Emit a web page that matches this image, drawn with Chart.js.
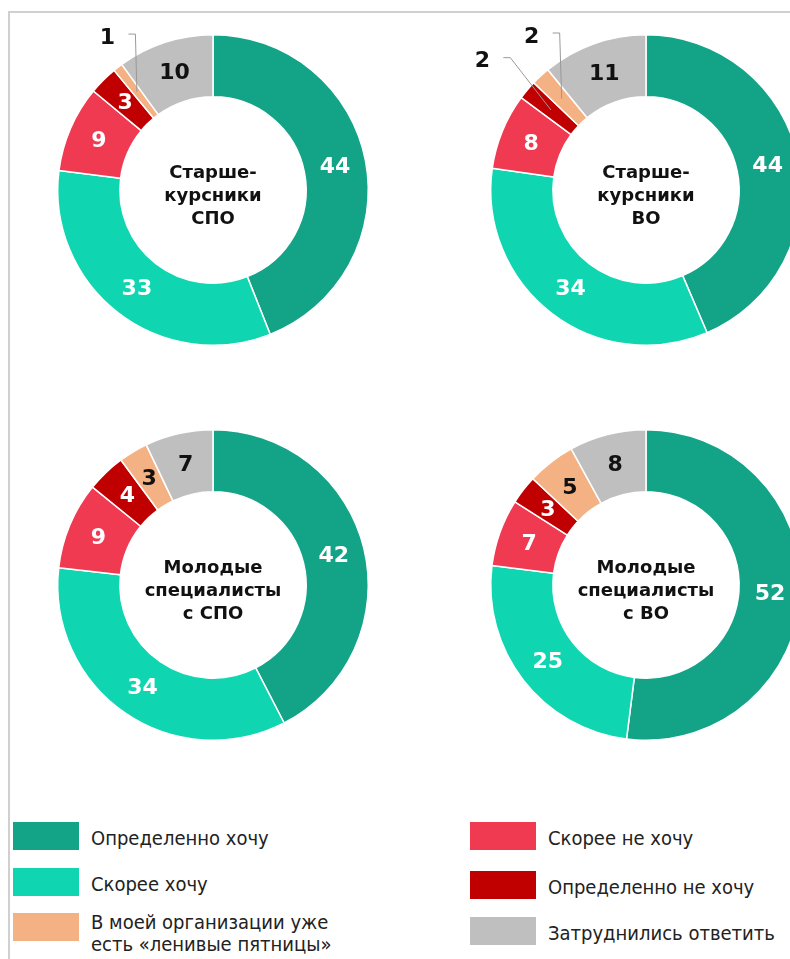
<!DOCTYPE html>
<html>
<head>
<meta charset="utf-8">
<script src="https://cdn.jsdelivr.net/npm/chart.js@4"></script>
<style>
  html, body { margin: 0; padding: 0; background: #fff; width: 790px; height: 959px; overflow: hidden; }
  #page { position: relative; width: 790px; height: 959px; overflow: hidden; }
  #frame { position: absolute; left: 8px; top: 11px; width: 800px; height: 960px; border-left: 2px solid #d0d0d0; border-top: 2px solid #d0d0d0; }
  canvas { position: absolute; }
  .lg { position: absolute; font-family: "DejaVu Sans Condensed", "DejaVu Sans", sans-serif; font-size: 20px; color: #222; line-height: 22px; }
  .box { position: absolute; width: 66px; height: 28px; }
</style>
</head>
<body>
<div id="page">
  <div id="frame"></div>
  <canvas id="c1" width="420" height="420" style="left:3px;top:-20px"></canvas>
  <canvas id="c2" width="420" height="420" style="left:436px;top:-20px"></canvas>
  <canvas id="c3" width="420" height="420" style="left:3px;top:375px"></canvas>
  <canvas id="c4" width="420" height="420" style="left:436px;top:375px"></canvas>
  <div id="legend"></div>
</div>
<script>
// категории ответов (по часовой стрелке от 12 часов)
const categories = [
    'Определенно хочу',
    'Скорее хочу',
    'Скорее не хочу',
    'Определенно не хочу',
    'В моей организации уже есть «ленивые пятницы»',
    'Затруднились ответить'
];
const colors = ['#13a386', '#0fd6b0', '#f03a52', '#c00000', '#f4b183', '#bfbfbf'];
const labelColors = ['#fff', '#fff', '#fff', '#fff', '#111', '#111'];

// значения, %
const seniorSpo = [44, 33, 9, 3, 1, 10];
const seniorVo = [44, 34, 8, 2, 2, 11];
const youngSpo = [42, 34, 9, 4, 3, 7];
const youngVo = [52, 25, 7, 3, 5, 8];

const titles = [
    ['Старше-', 'курсники', 'СПО'],
    ['Старше-', 'курсники', 'ВО'],
    ['Молодые', 'специалисты', 'с СПО'],
    ['Молодые', 'специалисты', 'с ВО']
];

// подписи маленьких секторов вынесены наружу: индекс сектора, радиус, сдвиг угла
const callouts = [
    [{ index: 4, r: 185, shift: 3 }],
    [{ index: 3, r: 208, shift: -2 }, { index: 4, r: 191, shift: 6 }],
    [],
    []
];

const labelsPlugin = {
    id: 'ringLabels',
    afterDatasetsDraw(chart, args, opts) {
        const ctx = chart.ctx;
        const meta = chart.getDatasetMeta(0);
        const values = chart.data.datasets[0].data;
        const outs = opts.callouts || [];
        ctx.save();
        ctx.textAlign = 'center';
        ctx.textBaseline = 'middle';
        meta.data.forEach(function(arc, i) {
            const out = outs.find(o => o.index === i);
            const pos = arc.tooltipPosition();
            ctx.font = 'bold 22px "DejaVu Sans"';
            if (out) {
                const p = arc.getProps(['x', 'y', 'startAngle', 'endAngle'], true);
                const a = (p.startAngle + p.endAngle) / 2 + out.shift * Math.PI / 180;
                const lx = p.x + Math.cos(a) * out.r;
                const ly = p.y + Math.sin(a) * out.r;
                ctx.strokeStyle = '#999';
                ctx.lineWidth = 1;
                ctx.beginPath();
                ctx.moveTo(lx + 21, ly - 4);
                ctx.lineTo(lx + 28, ly - 4);
                ctx.lineTo(pos.x, pos.y);
                ctx.stroke();
                ctx.fillStyle = '#111';
                ctx.fillText(values[i], lx, ly);
            } else {
                ctx.fillStyle = labelColors[i];
                ctx.fillText(values[i], pos.x, pos.y + 1);
            }
        });
        // подпись в центре
        const cx = meta.data[0].x, cy = meta.data[0].y;
        ctx.fillStyle = '#111';
        ctx.font = 'bold 18px "DejaVu Sans"';
        const lines = opts.title || [];
        lines.forEach(function(t, k) {
            ctx.fillText(t, cx, cy + 6 + (k - 1) * 23);
        });
        ctx.restore();
    }
};

function makeRing(id, values, title, outs) {
    return new Chart(document.getElementById(id), {
        type: 'doughnut',
        data: {
            labels: categories,
            datasets: [{
                data: values,
                backgroundColor: colors,
                borderColor: '#ffffff',
                borderWidth: 1.5
            }]
        },
        options: {
            responsive: false,
            animation: false,
            cutout: '60%',
            layout: { padding: 54 },
            plugins: {
                legend: { display: false },
                tooltip: { enabled: false },
                ringLabels: { title: title, callouts: outs }
            }
        },
        plugins: [labelsPlugin]
    });
}

makeRing('c1', seniorSpo, titles[0], callouts[0]);
makeRing('c2', seniorVo, titles[1], callouts[1]);
makeRing('c3', youngSpo, titles[2], callouts[2]);
makeRing('c4', youngVo, titles[3], callouts[3]);

// легенда в две колонки
const legendPlaces = [
    { x: 13, y: 822, ty: 827 },
    { x: 13, y: 868, ty: 873 },
    { x: 13, y: 913, ty: 911 },
    { x: 470, y: 822, ty: 827 },
    { x: 470, y: 871, ty: 876 },
    { x: 470, y: 917, ty: 922 }
];
const legendOrder = [0, 1, 4, 2, 3, 5];
const legend = document.getElementById('legend');
legendOrder.forEach(function(c, k) {
    const p = legendPlaces[k];
    const b = document.createElement('div');
    b.className = 'box';
    b.style.left = p.x + 'px';
    b.style.top = p.y + 'px';
    b.style.background = colors[c];
    legend.appendChild(b);
    const t = document.createElement('div');
    t.className = 'lg';
    t.style.left = (p.x + 78) + 'px';
    t.style.top = p.ty + 'px';
    t.innerHTML = c === 4 ? 'В моей организации уже<br>есть «ленивые пятницы»' : categories[c];
    legend.appendChild(t);
});
</script>
</body>
</html>
